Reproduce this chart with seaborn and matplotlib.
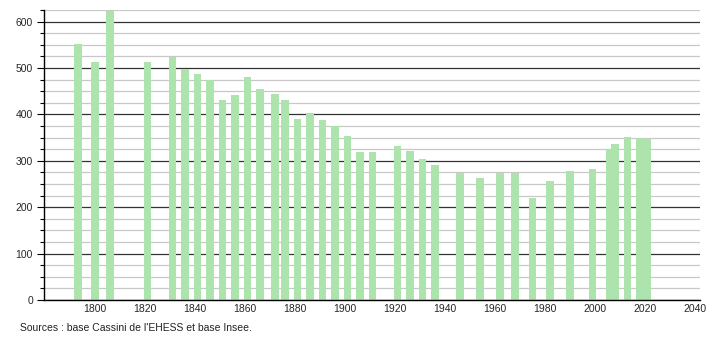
import matplotlib
matplotlib.use("Agg")
import matplotlib.pyplot as plt
from matplotlib.ticker import MultipleLocator
import seaborn as sns
import pandas as pd

years = [1793, 1800, 1806, 1821, 1831, 1836, 1841, 1846, 1851, 1856,
         1861, 1866, 1872, 1876, 1881, 1886, 1891, 1896, 1901, 1906,
         1911, 1921, 1926, 1931, 1936, 1946, 1954, 1962, 1968, 1975,
         1982, 1990, 1999, 2006, 2008, 2013, 2018, 2021]
population = [551, 514, 622, 514, 524, 497, 488, 475, 431, 441,
              480, 454, 445, 432, 391, 404, 387, 374, 354, 320,
              320, 331, 322, 303, 292, 274, 264, 273, 274, 220,
              257, 277, 283, 326, 337, 352, 350, 346]
x_ticks = [1800, 1820, 1840, 1860, 1880, 1900, 1920, 1940, 1960, 1980, 2000, 2020, 2040]
y_ticks = [0, 100, 200, 300, 400, 500, 600]
source_text = "Sources : base Cassini de l'EHESS et base Insee."

df = pd.DataFrame({"year": years, "pop": population})

sns.set_style("white")
plt.rcParams["font.family"] = ["Liberation Sans", "DejaVu Sans"]

fig = plt.figure(figsize=(7.1, 3.4), dpi=100)
ax = fig.add_axes([44 / 710, 40 / 340, 656 / 710, 290 / 340])

sns.barplot(data=df, x="year", y="pop", native_scale=True, width=1.6,
            color="#ade3ad", saturation=1, errorbar=None, linewidth=0, ax=ax)

ax.set_xlim(1779.6, 2042)
ax.set_ylim(0, 625)
ax.set_xticks(x_ticks)
ax.set_yticks(y_ticks)
ax.yaxis.set_minor_locator(MultipleLocator(25))
ax.set_axisbelow(True)
ax.grid(axis="y", which="major", color="#333333", linewidth=0.9)
ax.grid(axis="y", which="minor", color="#c8c8c8", linewidth=0.9)
ax.set_xlabel("")
ax.set_ylabel("")
for s in ["top", "right"]:
    ax.spines[s].set_visible(False)
for s in ["left", "bottom"]:
    ax.spines[s].set_color("black")
    ax.spines[s].set_linewidth(1)
ax.tick_params(axis="y", which="major", length=5, width=0.8, color="black",
               labelsize=7.5, pad=3, left=True)
ax.tick_params(axis="y", which="minor", length=3, width=0.8, color="black", left=True)
ax.tick_params(axis="x", length=0, labelsize=7.5, pad=3)

fig.text(20 / 710, 12 / 340, source_text, fontsize=7.5, ha="left", va="center",
         color="#222222")

fig.savefig("out.png", dpi=100)
